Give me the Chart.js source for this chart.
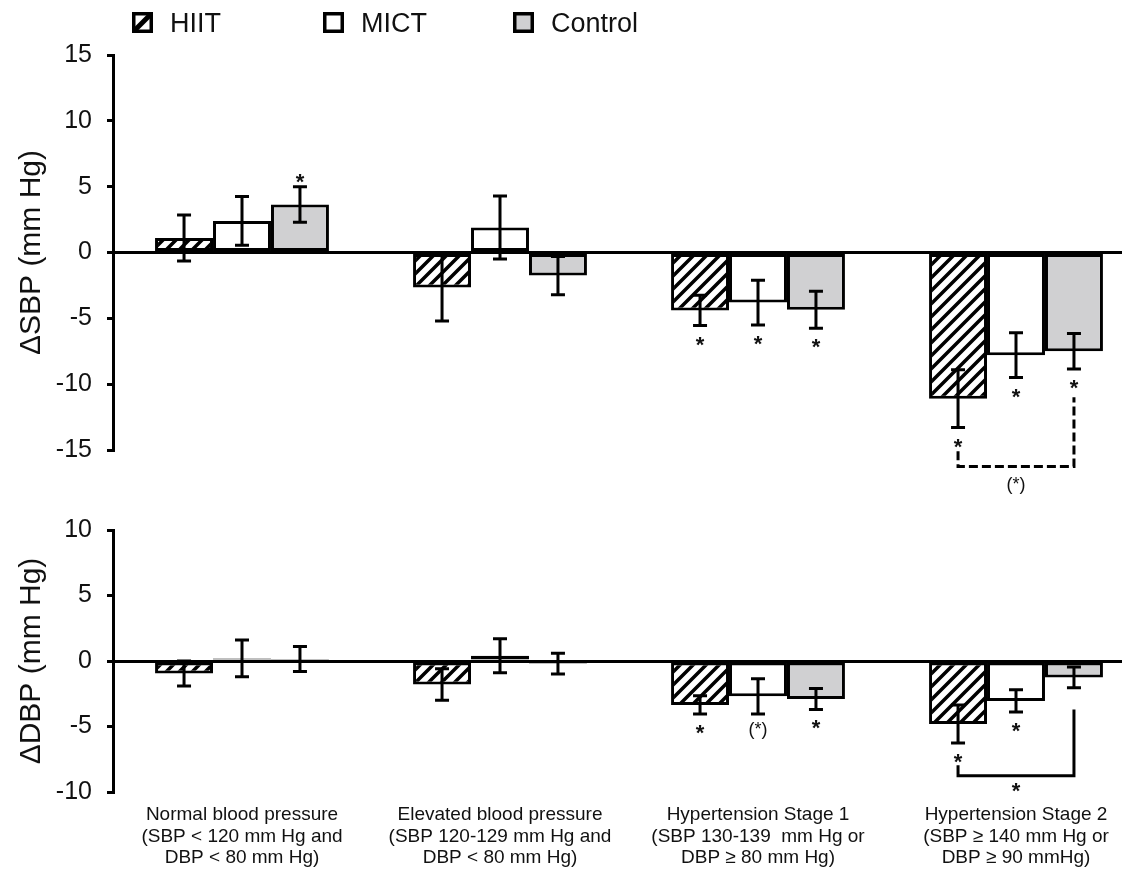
<!DOCTYPE html>
<html>
<head>
<meta charset="utf-8">
<script src="https://cdn.jsdelivr.net/npm/chart.js@4.4.1/dist/chart.umd.min.js"></script>
<style>
  html, body { margin: 0; padding: 0; background: #fff; overflow: hidden; width: 1122px; height: 869px; }
  #sbpChart { position: absolute; left: 0; top: 0; }
  #dbpChart { position: absolute; left: 0; top: 500px; }
</style>
</head>
<body>
<canvas id="sbpChart" width="1145" height="500"></canvas>
<canvas id="dbpChart" width="1145" height="369"></canvas>
<script>
// categories (x axis, multi-line)
const categories = [
    ["Normal blood pressure", "(SBP < 120 mm Hg and", "DBP < 80 mm Hg)"],
    ["Elevated blood pressure", "(SBP 120-129 mm Hg and", "DBP < 80 mm Hg)"],
    ["Hypertension Stage 1", "(SBP 130-139  mm Hg or", "DBP \u2265 80 mm Hg)"],
    ["Hypertension Stage 2", "(SBP \u2265 140 mm Hg or", "DBP \u2265 90 mmHg)"],
];
const seriesNames = ["HIIT", "MICT", "Control"];

// delta SBP (mm Hg), mean and error
const hiitSBP = [1.1, -2.65, -4.4, -11.1];
const mictSBP = [2.4, 1.9, -3.8, -7.8];
const controlSBP = [3.65, -1.75, -4.35, -7.5];
const hiitSBPErr = [1.75, 2.55, 1.15, 2.2];
const mictSBPErr = [1.85, 2.4, 1.7, 1.7];
const controlSBPErr = [1.35, 1.45, 1.4, 1.35];

// delta DBP (mm Hg), mean and error
const hiitDBP = [-0.95, -1.8, -3.35, -4.8];
const mictDBP = [0.2, 0.4, -2.7, -3.05];
const controlDBP = [0.15, -0.2, -2.9, -1.25];
const hiitDBPErr = [0.95, 1.2, 0.7, 1.45];
const mictDBPErr = [1.4, 1.3, 1.35, 0.85];
const controlDBPErr = [0.95, 0.8, 0.8, 0.8];

// significance marks per series / category
const hiitSBPMarks = ["", "", "*", "*"];
const mictSBPMarks = ["", "", "*", "*"];
const controlSBPMarks = ["*", "", "*", "*"];
const hiitDBPMarks = ["", "", "*", "*"];
const mictDBPMarks = ["", "", "(*)", "*"];
const controlDBPMarks = ["", "", "*", ""];

// between-group brackets (category index, series from/to, y values)
const sbpBrackets = [{ category: 3, from: 0, to: 2, leftTop: -15.1, rightTop: -11.0, level: -16.25, label: "(*)", dashed: true }];
const dbpBrackets = [{ category: 3, from: 0, to: 2, leftTop: -7.95, rightTop: -3.7, level: -8.75, label: "*", dashed: false }];

// y ticks
const sbpTicks = { min: -15, max: 15, step: 5 };
const dbpTicks = { min: -10, max: 10, step: 5 };

const FONT = '"Liberation Sans", Arial, sans-serif';
const INK = "#111";

// hatched fill for HIIT
function makeHatch() {
    const c = document.createElement("canvas");
    c.width = 13;
    c.height = 13;
    const g = c.getContext("2d");
    g.fillStyle = "#fff";
    g.fillRect(0, 0, 13, 13);
    g.strokeStyle = "#000";
    g.lineWidth = 3.5;
    g.beginPath();
    g.moveTo(-3, 16); g.lineTo(16, -3);
    g.moveTo(-16, 16); g.lineTo(3, -3);
    g.moveTo(10, 16); g.lineTo(29, -3);
    g.stroke();
    return g.createPattern(c, "repeat");
}
const hatch = makeHatch();
const fills = [hatch, "#ffffff", "#d0d0d2"];

function drawMark(ctx, text, x, cy) {
    ctx.fillStyle = INK;
    ctx.textAlign = "center";
    ctx.textBaseline = "alphabetic";
    if (text === "*") {
        ctx.font = "bold 22px " + FONT;
        ctx.fillText(text, x, cy + 13);
    } else {
        ctx.font = "18px " + FONT;
        ctx.fillText(text, x, cy + 5);
    }
}

// error bars, stars and brackets drawn from the chart's own scales
const marksPlugin = {
    id: "marks",
    afterDatasetsDraw(chart, args, opts) {
        const ctx = chart.ctx;
        const yScale = chart.scales.y;
        ctx.save();
        ctx.strokeStyle = "#000";
        ctx.lineWidth = 3;
        opts.errors.forEach((errs, i) => {
            const meta = chart.getDatasetMeta(i);
            const vals = chart.data.datasets[i].data;
            meta.data.forEach((bar, j) => {
                const top = yScale.getPixelForValue(vals[j] + errs[j]);
                const bot = yScale.getPixelForValue(vals[j] - errs[j]);
                ctx.beginPath();
                ctx.moveTo(bar.x, top); ctx.lineTo(bar.x, bot);
                ctx.moveTo(bar.x - 7, top); ctx.lineTo(bar.x + 7, top);
                ctx.moveTo(bar.x - 7, bot); ctx.lineTo(bar.x + 7, bot);
                ctx.stroke();
                const m = opts.marks[i][j];
                if (m) {
                    const cy = vals[j] > 0 ? top - 11 : bot + (m === "*" ? 13 : 16);
                    drawMark(ctx, m, bar.x, cy);
                }
            });
        });
        opts.brackets.forEach((b) => {
            const x1 = chart.getDatasetMeta(b.from).data[b.category].x;
            const x2 = chart.getDatasetMeta(b.to).data[b.category].x;
            const yl = yScale.getPixelForValue(b.level);
            ctx.setLineDash(b.dashed ? [9, 4] : []);
            ctx.beginPath();
            ctx.moveTo(x1, yScale.getPixelForValue(b.leftTop));
            ctx.lineTo(x1, yl);
            ctx.lineTo(x2, yl);
            ctx.lineTo(x2, yScale.getPixelForValue(b.rightTop));
            ctx.stroke();
            ctx.setLineDash([]);
            drawMark(ctx, b.label, (x1 + x2) / 2, yl + (b.label === "*" ? 9 : 19));
        });
        ctx.restore();
    },
};

// legend with fixed item pitch, like the original figure
const legendPlugin = {
    id: "fixedLegend",
    afterDraw(chart, args, opts) {
        const ctx = chart.ctx;
        ctx.save();
        chart.data.datasets.forEach((ds, i) => {
            const x = opts.positions[i];
            const y = 12;
            const s = 21;
            ctx.fillStyle = i === 0 ? "#fff" : ds.backgroundColor;
            ctx.fillRect(x, y, s, s);
            if (i === 0) {
                ctx.strokeStyle = "#000";
                ctx.lineWidth = 5;
                ctx.beginPath();
                ctx.moveTo(x + 2, y + s - 2);
                ctx.lineTo(x + s - 2, y + 2);
                ctx.stroke();
            }
            ctx.strokeStyle = "#000";
            ctx.lineWidth = 3.5;
            ctx.strokeRect(x + 1.75, y + 1.75, s - 3.5, s - 3.5);
            ctx.fillStyle = INK;
            ctx.font = "27px " + FONT;
            ctx.textAlign = "left";
            ctx.textBaseline = "alphabetic";
            ctx.fillText(ds.label, x + 38, y + 20);
        });
        ctx.restore();
    },
};

function makeDatasets(values) {
    return values.map((v, i) => ({
        label: seriesNames[i],
        data: v,
        backgroundColor: fills[i],
        borderColor: "#000",
        borderWidth: 3,
        borderSkipped: false,
        categoryPercentage: 0.674,
        barPercentage: 1.0,
    }));
}

function yAxis(range, title) {
    return {
        min: range.min,
        max: range.max,
        ticks: { stepSize: range.step, color: INK, font: { size: 25, family: FONT }, padding: 15 },
        grid: {
            drawOnChartArea: true,
            color: (c) => (c.tick && c.tick.value === 0 ? "#000" : "rgba(0,0,0,0)"),
            lineWidth: 3,
            tickLength: 6,
            tickColor: "#000",
            tickWidth: 3,
        },
        border: { display: true, color: "#000", width: 3 },
        title: {
            display: true,
            text: title,
            color: INK,
            font: { size: 30, family: FONT, lineHeight: 1.2 },
            padding: { top: 14, bottom: 0 },
        },
        afterFit: (s) => { s.width = 113; },
    };
}

new Chart(document.getElementById("sbpChart"), {
    type: "bar",
    data: {
        labels: categories,
        datasets: makeDatasets([hiitSBP, mictSBP, controlSBP]),
    },
    options: {
        responsive: false,
        animation: false,
        layout: { padding: { top: 55, bottom: 50, left: 0, right: 0 } },
        scales: {
            x: { display: false },
            y: yAxis(sbpTicks, "\u0394SBP (mm Hg)"),
        },
        plugins: {
            legend: { display: false },
            tooltip: { enabled: false },
            marks: {
                errors: [hiitSBPErr, mictSBPErr, controlSBPErr],
                marks: [hiitSBPMarks, mictSBPMarks, controlSBPMarks],
                brackets: sbpBrackets,
            },
            fixedLegend: { positions: [132, 323, 513] },
        },
    },
    plugins: [marksPlugin, legendPlugin],
});

new Chart(document.getElementById("dbpChart"), {
    type: "bar",
    data: {
        labels: categories,
        datasets: makeDatasets([hiitDBP, mictDBP, controlDBP]),
    },
    options: {
        responsive: false,
        animation: false,
        layout: { padding: { top: 25, bottom: 0, left: 0, right: 0 } },
        scales: {
            x: {
                grid: { display: false, drawTicks: false },
                border: { display: false },
                ticks: {
                    color: INK,
                    font: { size: 19, family: FONT, lineHeight: 1.14 },
                    padding: 12,
                    maxRotation: 0,
                    autoSkip: false,
                },
                afterFit: (s) => { s.height = 77; },
            },
            y: yAxis(dbpTicks, "\u0394DBP (mm Hg)"),
        },
        plugins: {
            legend: { display: false },
            tooltip: { enabled: false },
            marks: {
                errors: [hiitDBPErr, mictDBPErr, controlDBPErr],
                marks: [hiitDBPMarks, mictDBPMarks, controlDBPMarks],
                brackets: dbpBrackets,
            },
        },
    },
    plugins: [marksPlugin],
});
</script>
</body>
</html>
